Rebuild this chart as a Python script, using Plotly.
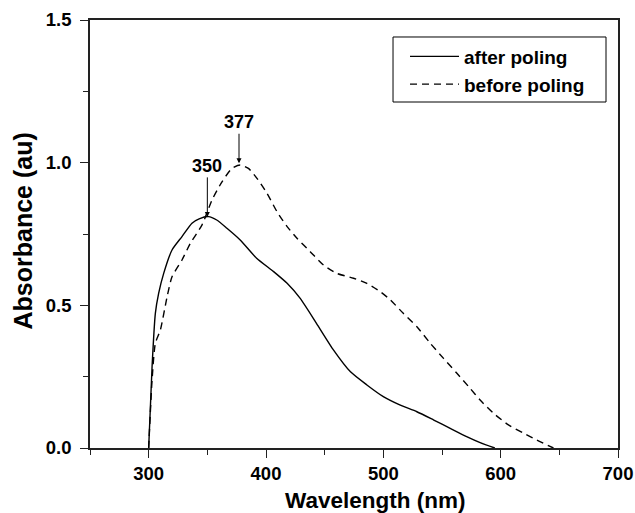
import plotly.graph_objects as go

# Data
wl_after = [300, 302.9, 305.7, 308.5, 312.8, 319.9, 328.4, 336.9, 343, 351, 358, 366.7, 378, 392,
            406.5, 418, 429, 443, 457.6, 472, 486, 500, 514, 528.6, 543, 557, 571, 582.5, 595]
abs_after = [0, 0.285, 0.472, 0.542, 0.612, 0.694, 0.741, 0.788, 0.803, 0.811, 0.799, 0.770, 0.729, 0.665,
             0.618, 0.577, 0.525, 0.437, 0.343, 0.267, 0.221, 0.180, 0.151, 0.127, 0.098, 0.069, 0.040, 0.019, 0]

wl_before = [300, 302.9, 305.7, 310, 315.7, 319.9, 328.4, 335.5, 345.5, 354, 362.5, 371, 378, 385, 392.3,
             400.8, 409.4, 418, 426.4, 437.7, 449, 460.4, 474.6, 486, 497.4, 506, 517, 528.6, 540, 551.3,
             562.7, 574, 582.5, 593.8, 606.6, 619.4, 630.8, 645]
abs_before = [0, 0.238, 0.367, 0.414, 0.530, 0.600, 0.659, 0.717, 0.782, 0.869, 0.933, 0.980, 0.992, 0.980,
              0.945, 0.893, 0.828, 0.776, 0.735, 0.688, 0.641, 0.612, 0.595, 0.577, 0.548, 0.519, 0.472,
              0.425, 0.367, 0.314, 0.262, 0.209, 0.168, 0.122, 0.081, 0.052, 0.028, 0]

series_names = ["after poling", "before poling"]
peak_labels = ["350", "377"]
peak_x = [350, 377]
peak_y = [0.81, 0.998]
peak_ay = [-51, -41]

FONT = "Liberation Sans, Arial, sans-serif"

fig = go.Figure()
fig.add_trace(go.Scatter(x=wl_after, y=abs_after, mode="lines", name=series_names[0],
                         line=dict(color="black", width=1.4, shape="spline", smoothing=0.6)))
fig.add_trace(go.Scatter(x=wl_before, y=abs_before, mode="lines", name=series_names[1],
                         line=dict(color="black", width=1.4, dash="7px,5px", shape="spline", smoothing=0.6)))

for lab, px, py, ay in zip(peak_labels, peak_x, peak_y, peak_ay):
    fig.add_annotation(x=px, y=py, xref="x", yref="y", text=lab, showarrow=True,
                       ax=0, ay=ay, arrowhead=2, arrowsize=1, arrowwidth=1, arrowcolor="black",
                       font=dict(family=FONT, size=18, color="black", weight="bold"))

fig.add_annotation(text="Wavelength (nm)", xref="paper", yref="paper", x=0.540, y=-0.1215,
                   xanchor="center", yanchor="middle", showarrow=False,
                   font=dict(family=FONT, size=22.5, color="black", weight="bold"))
fig.add_annotation(text="Absorbance (au)", xref="paper", yref="paper", x=-0.126, y=0.507,
                   xanchor="center", yanchor="middle", showarrow=False, textangle=-90,
                   font=dict(family=FONT, size=25, color="black", weight="bold"))

# legend frame
fig.add_shape(type="rect", xref="paper", yref="paper", x0=0.5739, x1=0.9773, y0=0.8084, y1=0.9603,
              line=dict(color="black", width=1), fillcolor="rgba(0,0,0,0)", layer="above")

axis_common = dict(showgrid=False, zeroline=False, showline=True, linecolor="#222", linewidth=1.5,
                   mirror=True, ticks="outside", ticklen=8, tickwidth=1.2, tickcolor="#222",
                   automargin=False,
                   tickfont=dict(family=FONT, size=18.5, color="black", weight="bold"))

fig.update_xaxes(range=[250, 700], dtick=100, tick0=300,
                 minor=dict(dtick=50, ticks="outside", ticklen=5, tickcolor="#222", tickwidth=1.2),
                 **axis_common)
fig.update_yaxes(range=[0, 1.5], dtick=0.5, tick0=0, tickformat=".1f", ticklabelstandoff=5,
                 minor=dict(dtick=0.25, ticks="outside", ticklen=5, tickcolor="#222", tickwidth=1.2),
                 **axis_common)

fig.update_layout(
    width=635, height=513,
    margin=dict(l=90, r=17, t=20, b=65, autoexpand=False),
    plot_bgcolor="white", paper_bgcolor="white",
    showlegend=True,
    legend=dict(x=0.5966, y=0.959, xanchor="left", yanchor="top",
                bgcolor="rgba(0,0,0,0)", borderwidth=0,
                font=dict(family=FONT, size=19, color="black", weight="bold"),
                itemwidth=49, tracegroupgap=0),
)

fig.write_html("out.html", config={"displayModeBar": False},
               post_script="document.body.style.margin='0';document.body.style.overflow='hidden';")
